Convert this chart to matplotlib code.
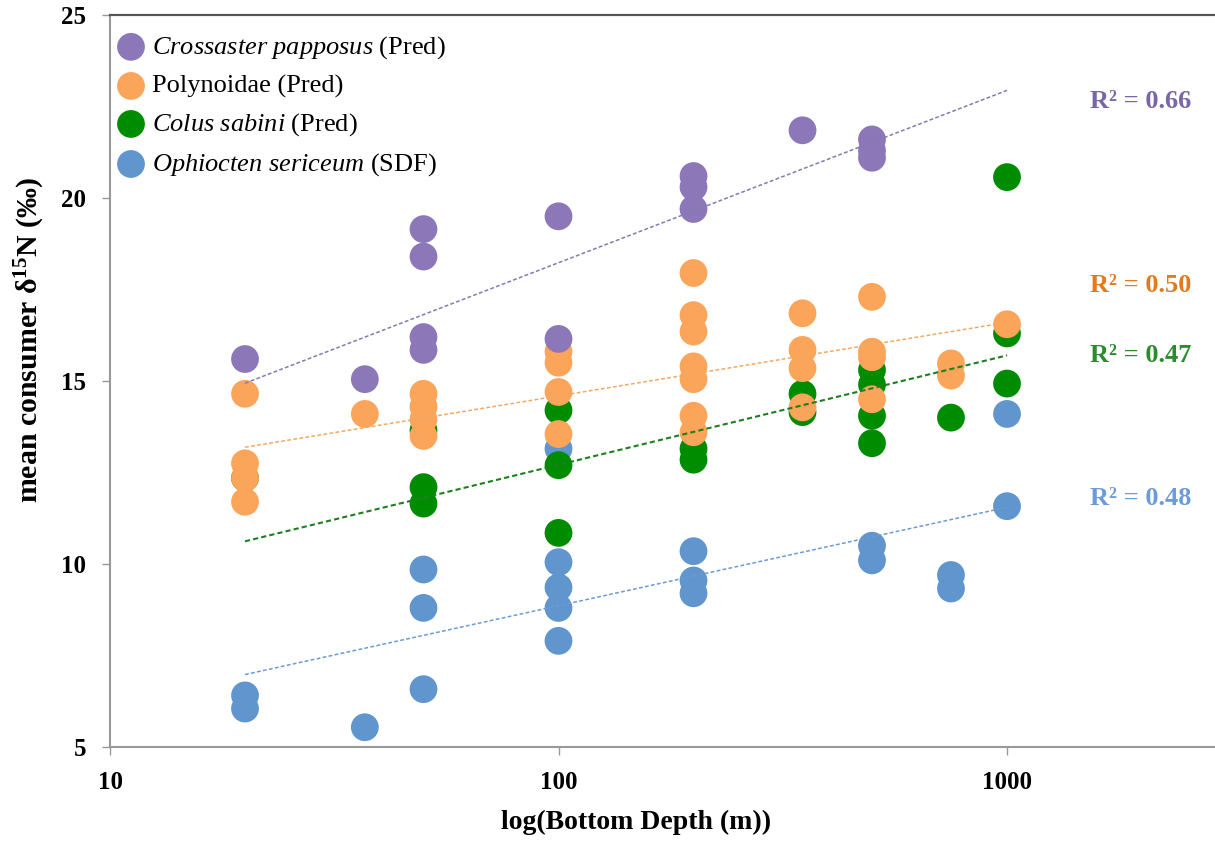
import numpy as np
import matplotlib
matplotlib.use('Agg')
import matplotlib.pyplot as plt
from matplotlib.ticker import FixedLocator, FixedFormatter, NullLocator

plt.rcParams['font.family'] = ['Liberation Serif', 'DejaVu Serif']
plt.rcParams['mathtext.fontset'] = 'custom'
plt.rcParams['mathtext.rm'] = 'Liberation Serif:bold'
plt.rcParams['mathtext.it'] = 'Liberation Serif:italic'
plt.rcParams['mathtext.bf'] = 'Liberation Serif:bold'

# mean d15N per station, by taxon
cp_depth = [20, 37, 50, 50, 50, 50, 100, 100, 200, 200, 200, 350, 500, 500, 500]
cp_d15n = [15.6, 15.05, 19.15, 18.4, 16.2, 15.85, 19.5, 16.15, 20.6, 20.3, 19.7,
           21.85, 21.6, 21.3, 21.1]

po_depth = [20, 20, 20, 20, 37, 50, 50, 50, 50, 100, 100, 100, 100,
            200, 200, 200, 200, 200, 200, 200, 350, 350, 350, 350,
            500, 500, 500, 500, 750, 750, 1000]
po_d15n = [14.65, 12.75, 12.35, 11.7, 14.1, 14.65, 14.3, 13.95, 13.5,
           15.8, 15.5, 14.7, 13.55,
           17.95, 16.8, 16.35, 15.4, 15.05, 14.05, 13.6,
           16.85, 15.85, 15.35, 14.28,
           17.3, 15.8, 15.65, 14.5, 15.48, 15.15, 16.55]

cs_depth = [20, 50, 50, 50, 100, 100, 100, 200, 200, 350, 350,
            500, 500, 500, 500, 750, 1000, 1000, 1000]
cs_d15n = [12.35, 13.65, 12.1, 11.65, 14.2, 12.7, 10.85, 13.15, 12.85, 14.65, 14.15,
           15.3, 14.9, 14.05, 13.3, 14.0, 20.57, 16.3, 14.93]

os_depth = [20, 20, 37, 50, 50, 50, 100, 100, 100, 100, 100,
            200, 200, 200, 500, 500, 750, 750, 1000, 1000]
os_d15n = [6.41, 6.05, 5.54, 9.85, 8.8, 6.58, 13.15, 10.05, 9.36, 8.8, 7.9,
           10.35, 9.55, 9.2, 10.5, 10.1, 9.7, 9.33, 14.1, 11.58]

# log trendlines: value at shallowest (20 m) and deepest (1000 m) station
trend_x = [20, 1000]
cp_trend = [14.94, 22.94]
po_trend = [13.19, 16.6]
cs_trend = [10.62, 15.7]
os_trend = [6.98, 11.55]
r2 = ['0.66', '0.50', '0.47', '0.48']
r2_y = [22.65, 17.6, 15.7, 11.8]

labels = [r'$\mathit{Crossaster\ papposus}$ (Pred)', 'Polynoidae (Pred)',
          r'$\mathit{Colus\ sabini}$ (Pred)', r'$\mathit{Ophiocten\ sericeum}$ (SDF)']
colors = ['#8C78B8', '#FAA55A', '#008C00', '#6096CD']
line_colors = ['#837AAE', '#F2A963', '#1E7F1E', '#6B9BD0']
text_colors = ['#7A65A6', '#E37A1E', '#2D8A2D', '#6B9BD8']

fig = plt.figure(figsize=(12.15, 8.41), dpi=100)
ax = fig.add_axes([110/1215, 94/841, 1111/1215, 732/841])

series = [(cp_depth, cp_d15n, cp_trend), (po_depth, po_d15n, po_trend),
          (cs_depth, cs_d15n, cs_trend), (os_depth, os_d15n, os_trend)]
zorders = [5, 4, 3, 2]
handles = []
for i, (xs, ys, tr) in enumerate(series):
    h = ax.scatter(xs, ys, s=400, color=colors[i], edgecolors='none', zorder=zorders[i])
    handles.append(h)
    lw = 1.5 if i == 2 else 1.1
    ax.plot(trend_x, tr, color=line_colors[i], lw=lw, ls=(0, (2.5, 1.5)), zorder=6)
    ax.text(1530, r2_y[i], 'R² = ' + r2[i], color=text_colors[i], fontsize=19,
            fontweight='bold', va='center', ha='left')

ax.set_xscale('log')
ax.set_xlim(10, 3000)
ax.set_ylim(5, 25)
ax.xaxis.set_major_locator(FixedLocator([10, 100, 1000]))
ax.xaxis.set_major_formatter(FixedFormatter(['10', '100', '1000']))
ax.xaxis.set_minor_locator(NullLocator())
ax.set_yticks([5, 10, 15, 20, 25])

ax.tick_params(axis='both', direction='out', length=6, width=1, color='#999999',
               labelsize=18, pad=11)
for lab in ax.get_xticklabels() + ax.get_yticklabels():
    lab.set_fontweight('bold')

ax.spines['right'].set_visible(False)
ax.spines['top'].set_color('#555555')
ax.spines['top'].set_linewidth(1.6)
for s in ['left', 'bottom']:
    ax.spines[s].set_color('#999999')
    ax.spines[s].set_linewidth(1.5)

ax.set_xlabel('log(Bottom Depth (m))', fontsize=20, fontweight='bold')
ax.xaxis.set_label_coords(0.4734, -0.086)
ax.xaxis.label.set_va('top')
ax.set_ylabel('mean consumer δ$^{15}$N (‰)', fontsize=21.5, fontweight='bold')
ax.yaxis.set_label_coords(-0.0565, 0.556)

leg = ax.legend(handles, labels, loc='upper left', bbox_to_anchor=(-0.0025, 0.988),
                frameon=False, fontsize=19, handlelength=1.0, handletextpad=0.3,
                labelspacing=0.5, scatterpoints=1, borderaxespad=0)

fig.savefig('out.png', dpi=100)
